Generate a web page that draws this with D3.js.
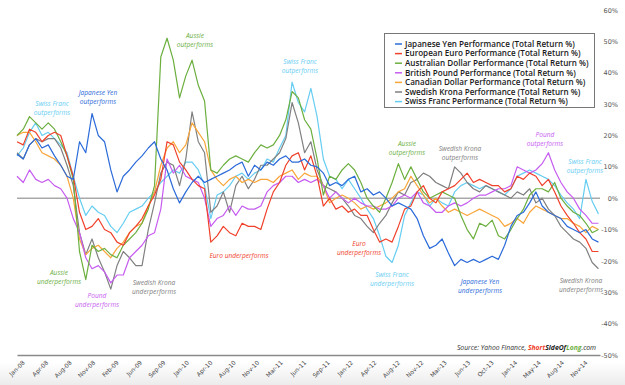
<!DOCTYPE html>
<html>
<head>
<meta charset="utf-8">
<script src="https://cdn.jsdelivr.net/npm/d3@7"></script>
<style>
  body { margin: 0; background: #fff; }
  svg { display: block; }
</style>
</head>
<body>
<svg id="chart" width="625" height="385"></svg>
<script>
// total return %, one value every 4 weeks from end of Nov 2007
const jpy = [14, 12.5, 17, 19, 16, 17, 13.5, 10.5, 7, 6, 18, 14.5, 27, 20, 18, 9, 2, 7, 9, 11.5,
  13.5, 16, 18, 12.5, 9, 3, -1.5, 2, 5, 7, 5, 6, 7, 8, 9, 10.5, 11.5, 7, 10.5, 9,
  11.5, 10.5, 12.5, 13.5, 11.5, 11.5, 12.5, 10.5,
  10, 8, 4, 5, 4, 6, 7, 2, 3, 1, 2, 0, -2.5, -1.5, -2.5, -3.5, -6.5, -12, -16, -15,
  -13, -17.5, -21.5, -19.5, -20.5, -19.5, -20.5, -19.5, -18.5, -19.5, -15, -9, -5.5, -4.5, -1.5, 2, -2.5, -4.5, -5.5, -6.5,
  -9, -10, -11, -10, -13, -14];
const eur = [18, 17, 22, 21, 18, 20, 21, 20, 13.5, 7, -4.5, -10, -9, -6.5, -10, -11, -14, -15, -11, -9,
  -6.5, -2.5, 1, 6, 18, 17, 11.5, 9, 6, 4, 3, -14, -12, -9, -11, -12, -8, -9, -9, -10,
  -3.5, 2, 5, 10.5, 13.5, 14.5, 9, 13.5,
  7, -2.5, 0, -3.5, -2.5, -4.5, -3.5, -5.5, -5.5, -10, -14, -13, -14, -9, -3.5, -2.5, 2, 4, 0, -1.5,
  2, 3, 4, 6, 8, 5, 6, 5, 4, 4, 2, 3, 7, 6, 8, 7, 4, 6, 2, -2.5,
  -5.5, -8, -11, -13, -17, -17];
const aud = [20, 22, 26, 24, 22, 24, 22, 18, 13.5, 6, -17, -26, -15, -17, -16, -18, -19, -15, -13, -11,
  -8, -3.5, 4, 45, 51, 44, 32, 39, 44, 36, 31, 9, 8, 10.5, 12.5, 13.5, 12.5, 11.5, 14.5, 17,
  16, 17, 20, 25, 34, 32, 25, 22,
  12.5, 1, 7, 6, 9, 11, 9, 5, 0, -2.5, -4.5, 0, 5, 11, 6, 10, 6, 2, 0, 1,
  2, 1, 0, -5.5, -10, -13, -8, -9, -7, -12, -13, -10, -6.5, -3.5, 1, 3, 3, 2, 5, 0,
  -2.5, -4.5, -5.5, -8, -11, -10];
const gbp = [7, 5, 9, 6, 5, 6, 4, 3, 0, -6.5, -11, -19, -22.5, -21.5, -23.5, -27, -24.5, -24.5, -19, -17,
  -15, -12, -11, -3.5, 12.5, 8, 10.5, 7, 6, 5, 0, -9, -6.5, -5.5, -2.5, -5.5, -2.5, -3.5, -3.5, -2.5,
  2, 4, 5, 7, 7, 5, 6, 5,
  6, 4, 0, 2, 0, -1.5, 0, -1.5, -2.5, -2.5, -3.5, -3.5, -2.5, 0, 1, 0, 2, -1.5, -2.5, -4.5,
  -4.5, -2.5, -1.5, -2.5, -1.5, 0, 1, 1, 2, 3, 3, 4, 10, 9, 8, 9, 11, 14.5, 9, 5,
  2, 0, -3.5, -5.5, -8, -8];
const cad = [20, 21, 21, 18, 14.5, 13.5, 12.5, 10.5, 7, 0, -13, -18, -16, -15, -17, -19, -16, -14, -11, -9,
  -8, -2.5, 2, 10.5, 16, 18, 14.5, 17, 24, 21, 18, 9, 6, 4, 6, 7, 5, 6, 5, 6,
  6, 5, 7, 8, 9, 6, 8, 7,
  7, 4, -1.5, 0, 1, 0, -1.5, -3.5, -2.5, -3.5, -2.5, -1.5, 0, 2, 3, 7, 4, 1, -1.5, 0,
  -2.5, -4.5, -3.5, -4.5, -5.5, -4.5, -3.5, -4.5, -5.5, -6.5, -9, -8, -6.5, -8, -4.5, -2.5, -3.5, -4.5, -5.5, -6.5,
  -6.5, -8, -9, -11, -9, -10];
const sek = [14.5, 12.5, 17, 19, 18, 19, 19, 16, 10.5, 4, -11, -18, -13, -19, -23.5, -29, -21.5, -17, -19, -21.5,
  -21.5, -10, -1.5, 8, 11.5, 10.5, 4, 12.5, 27.5, 18, 14.5, -4.5, -2.5, 2, -4.5, 4, 7, 3, 6, 10.5,
  10.5, 12.5, 14.5, 19, 30.5, 24, 14.5, 18,
  9, 4, 3, 2, 0, -2.5, -5.5, -6.5, -9, -11, -8, -5.5, -1.5, 2, 1, 5, 6, 8, 7, 5,
  4, 3, 10, 8, 5, 3, 2, 4, 3, 2, 1, 0, 2, 1, 3, -1.5, 0, -3.5, -5.5, -9,
  -11, -13, -14, -16, -20.5, -22.5];
const chf = [13.5, 16, 21, 24, 20, 21, 19, 17, 14.5, 7, 0, -5.5, -2.5, -4.5, -5.5, -9, -11, -8, -4.5, -3.5,
  -2.5, 0, 2, 5, 7, 9, 8, 11.5, 11.5, 9, 4, -6.5, 1, 2, 4, 7, 8, 6, 8, 9,
  12.5, 11.5, 16, 20, 37, 30.5, 27.5, 35,
  26, 12.5, 7, 6, 3, 6, 3, 0, -3.5, -6.5, -12, -18.5, -20.5, -15, -5.5, -1.5, 2, 1, -2.5, 0,
  -1.5, -2.5, 2, 4, 5, 4, 3, 4, 3, 2, 1, 3, 7, 8, 9, 8, 7, 6, 4, 1,
  -1.5, -3.5, -6.5, 6, -1, -5];

const seriesNames = ['Japanese Yen', 'European Euro', 'Australian Dollar', 'British Pound',
  'Canadian Dollar', 'Swedish Krona', 'Swiss Franc'];
const seriesValues = [jpy, eur, aud, gbp, cad, sek, chf];
const seriesColors = ['#2b6bd9', '#f0412b', '#6caf3f', '#c65cf0', '#f9a53a', '#808080', '#66cdf2'];

const tickLabels = ['Jan-08', 'Apr-08', 'Aug-08', 'Nov-08', 'Feb-09', 'Jun-09', 'Sep-09', 'Jan-10',
  'Apr-10', 'Aug-10', 'Nov-10', 'Mar-11', 'Jun-11', 'Sep-11', 'Jan-12', 'Apr-12', 'Aug-12',
  'Nov-12', 'Mar-13', 'Jun-13', 'Oct-13', 'Jan-14', 'May-14', 'Aug-14', 'Nov-14'];
const yTicks = [-50, -40, -30, -20, -10, 0, 10, 20, 30, 40, 50, 60];

const notes = [
  { lines: ['Swiss Franc', 'outperforms'], x: 52, y: 104, color: '#66cdf2' },
  { lines: ['Japanese Yen', 'outperforms'], x: 98, y: 93, color: '#2b6bd9' },
  { lines: ['Aussie', 'outperforms'], x: 195, y: 36, color: '#6caf3f' },
  { lines: ['Swiss Franc', 'outperforms'], x: 300, y: 62, color: '#66cdf2' },
  { lines: ['Aussie', 'underperforms'], x: 59, y: 273, color: '#6caf3f' },
  { lines: ['Pound', 'underperforms'], x: 97, y: 296, color: '#c65cf0' },
  { lines: ['Swedish Krona', 'underperforms'], x: 154, y: 283, color: '#808080' },
  { lines: ['Euro underperforms'], x: 239, y: 256, color: '#f0412b' },
  { lines: ['Aussie', 'outperforms'], x: 407, y: 144, color: '#6caf3f' },
  { lines: ['Swedish Krona', 'outperforms'], x: 460, y: 149, color: '#808080' },
  { lines: ['Euro', 'underperforms'], x: 359, y: 244, color: '#f0412b' },
  { lines: ['Swiss Franc', 'underperforms'], x: 392, y: 275, color: '#66cdf2' },
  { lines: ['Japanese Yen', 'underperforms'], x: 480, y: 282, color: '#2b6bd9' },
  { lines: ['Pound', 'outperforms'], x: 545, y: 135, color: '#c65cf0' },
  { lines: ['Swiss Franc', 'outperforms'], x: 585, y: 162, color: '#66cdf2' },
  { lines: ['Swedish Krona', 'underperforms'], x: 581, y: 281, color: '#808080' },
];

const svg = d3.select('#chart');
const startDate = new Date(2007, 10, 30);
const dates = jpy.map((v, i) => d3.timeDay.offset(startDate, i * 28));
const tickDates = tickLabels.map((l, i) => d3.timeWeek.offset(new Date(2008, 0, 4), i * 15));

const x = d3.scaleTime()
  .domain([startDate, d3.timeDay.offset(startDate, 2611)])
  .range([17, 600]);
const y = d3.scaleLinear().domain([-50, 60]).range([355, 10]);

// light grey band at the bottom
const grad = svg.append('defs').append('linearGradient')
  .attr('id', 'bottomFade').attr('x1', 0).attr('x2', 0).attr('y1', 0).attr('y2', 1);
grad.append('stop').attr('offset', 0).attr('stop-color', '#fff');
grad.append('stop').attr('offset', 1).attr('stop-color', '#ececec');
svg.append('rect').attr('x', 0).attr('y', 362).attr('width', 625).attr('height', 23)
  .attr('fill', 'url(#bottomFade)');

// y labels on the right
const yAxis = svg.append('g')
  .attr('transform', 'translate(618,0)')
  .call(d3.axisLeft(y).tickValues(yTicks).tickSize(0).tickPadding(0).tickFormat(d => d + '%'));
yAxis.select('.domain').remove();
yAxis.selectAll('text')
  .attr('fill', '#555')
  .style('font', '6.5px "DejaVu Sans", sans-serif');

// zero line
svg.append('line')
  .attr('x1', 17).attr('x2', 600)
  .attr('y1', y(0)).attr('y2', y(0))
  .attr('stroke', '#7f7f7f').attr('stroke-width', 1);

// x axis
const xAxis = svg.append('g')
  .attr('transform', `translate(0,${y(-50)})`)
  .call(d3.axisBottom(x).tickValues(tickDates).tickSize(0).tickPadding(0)
    .tickFormat((d, i) => tickLabels[i]));
xAxis.select('.domain').attr('stroke', '#8a8a8a').attr('stroke-width', 1.5);
xAxis.selectAll('text')
  .attr('x', 0).attr('y', 0).attr('dy', 0)
  .attr('transform', 'translate(0,8) rotate(-45)')
  .style('text-anchor', 'end')
  .attr('fill', '#444')
  .style('font', '6px "DejaVu Sans", sans-serif');

// series lines
const line = d3.line()
  .x((d, i) => x(dates[i]))
  .y(d => y(d));

const order = [6, 5, 4, 3, 2, 1, 0];
svg.append('g').selectAll('path')
  .data(order)
  .enter().append('path')
  .attr('d', k => line(seriesValues[k]))
  .attr('fill', 'none')
  .attr('stroke', k => seriesColors[k])
  .attr('stroke-width', 1.2)
  .attr('stroke-linejoin', 'round');

// annotations
const noteGroups = svg.append('g').selectAll('text')
  .data(notes)
  .enter().append('text')
  .attr('text-anchor', 'middle')
  .attr('fill', d => d.color)
  .style('font', 'italic 6.6px "Open Sans", sans-serif');
noteGroups.selectAll('tspan')
  .data(d => d.lines.map((t, i) => ({ t, i, x: d.x, y: d.y })))
  .enter().append('tspan')
  .attr('x', d => d.x)
  .attr('y', d => d.y + d.i * 9)
  .attr('dy', '0.35em')
  .text(d => d.t);

// legend
const legend = svg.append('g');
legend.append('rect')
  .attr('x', 384.5).attr('y', 33.5).attr('width', 210).attr('height', 74)
  .attr('fill', '#fff').attr('stroke', '#777').attr('stroke-width', 1);
const items = legend.selectAll('.item')
  .data(seriesNames)
  .enter().append('g')
  .attr('class', 'item')
  .attr('transform', (d, i) => `translate(0,${44 + i * 9.6})`);
items.append('line')
  .attr('x1', 395).attr('x2', 402)
  .attr('stroke', (d, i) => seriesColors[i]).attr('stroke-width', 1.5);
items.append('text')
  .attr('x', 405).attr('dy', '0.35em')
  .attr('fill', '#1a1a1a')
  .style('font', '600 8.1px "Open Sans", sans-serif')
  .text(d => d + ' Performance (Total Return %)');

// source
const src = svg.append('text')
  .attr('x', 596).attr('y', 350)
  .attr('text-anchor', 'end')
  .attr('fill', '#333')
  .style('font', 'italic 6.8px "Open Sans", sans-serif');
src.append('tspan').text('Source: Yahoo Finance, ');
src.append('tspan').attr('fill', '#f0412b').attr('font-weight', 700).text('Short');
src.append('tspan').attr('fill', '#222').attr('font-weight', 700).text('SideOf');
src.append('tspan').attr('fill', '#6caf3f').attr('font-weight', 700).text('Long');
src.append('tspan').attr('fill', '#222').text('.com');
</script>
</body>
</html>
